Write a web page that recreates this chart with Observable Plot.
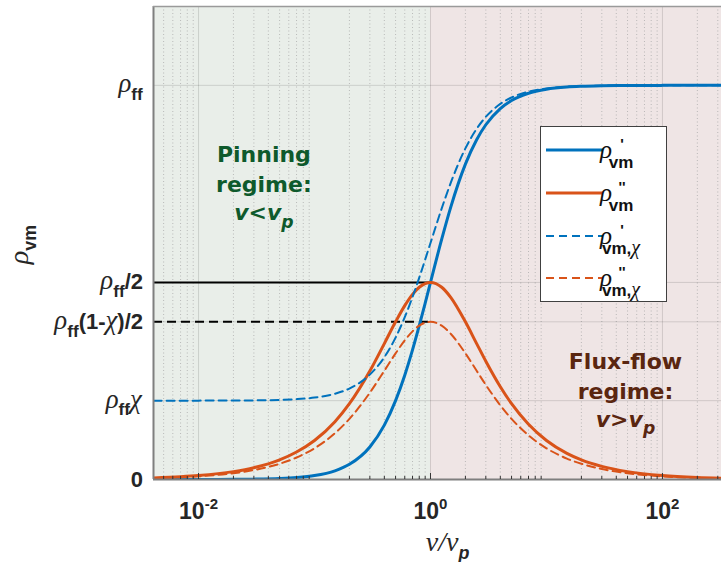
<!DOCTYPE html>
<html>
<head>
<meta charset="utf-8">
<script src="https://cdn.jsdelivr.net/npm/d3@7"></script>
<script src="https://cdn.jsdelivr.net/npm/@observablehq/plot@0.6"></script>
<style>
  html, body { margin: 0; padding: 0; background: white; }
</style>
</head>
<body>
<script>
// ---------- data ----------
const nu = [0.0041, 0.007, 0.01, 0.02, 0.03, 0.05, 0.07, 0.1, 0.15, 0.2, 0.3, 0.4, 0.5, 0.6, 0.7, 0.8, 0.9, 1,
            1.25, 1.5, 2, 2.5, 3, 4, 5, 7, 10, 15, 20, 30, 50, 100, 200, 320];
const rhoReal = [0, 0, 0.0001, 0.0004, 0.0009, 0.0025, 0.0049, 0.0099, 0.022, 0.0385, 0.0826, 0.1379, 0.2, 0.2647,
                 0.3289, 0.3902, 0.4475, 0.5, 0.6098, 0.6923, 0.8, 0.8621, 0.9, 0.9412, 0.9615, 0.98, 0.9901,
                 0.9956, 0.9975, 0.9989, 0.9996, 0.9999, 1, 1];
const rhoImag = [0.0041, 0.007, 0.01, 0.02, 0.03, 0.0499, 0.0698, 0.099, 0.1467, 0.1923, 0.2752, 0.3448, 0.4,
                 0.4412, 0.4698, 0.4878, 0.4972, 0.5, 0.4878, 0.4615, 0.4, 0.3448, 0.3, 0.2353, 0.1923, 0.14,
                 0.099, 0.0664, 0.0499, 0.0333, 0.02, 0.01, 0.005, 0.0031];
const rhoRealChi = [0.2, 0.2, 0.2001, 0.2003, 0.2007, 0.202, 0.2039, 0.2079, 0.2176, 0.2308, 0.2661, 0.3103, 0.36,
                    0.4118, 0.4631, 0.5122, 0.558, 0.6, 0.6878, 0.7538, 0.84, 0.8897, 0.92, 0.9529, 0.9692, 0.984,
                    0.9921, 0.9965, 0.998, 0.9991, 0.9997, 0.9999, 1, 1];
const rhoImagChi = [0.0033, 0.0056, 0.008, 0.016, 0.024, 0.0399, 0.0558, 0.0792, 0.1174, 0.1538, 0.2202, 0.2759,
                    0.32, 0.3529, 0.3758, 0.3902, 0.3978, 0.4, 0.3902, 0.3692, 0.32, 0.2759, 0.24, 0.1882, 0.1538,
                    0.112, 0.0792, 0.0531, 0.0399, 0.0266, 0.016, 0.008, 0.004, 0.0025];

const xTickValues = [0.01, 1, 100];
const xTickLabels = ["10^{-2}", "10^{0}", "10^{2}"];
const yTickValues = [0, 0.2, 0.4, 0.5, 1];
const yTickLabels = ["0", "ρ_{ff}χ", "ρ_{ff}(1-χ)/2", "ρ_{ff}/2", "ρ_{ff}"];
const refLevelSolid = [0.5];
const refLevelDashed = [0.4];
const pinningLines = ["Pinning", "regime:", "*v*<*v*_{*p*}"];
const fluxLines = ["Flux-flow", "regime:", "*v*>*v*_{*p*}"];
const legendPrimes = ["'", "''", "'", "''"];
const legendSubs = ["vm", "vm", "vm,χ", "vm,χ"];
const xTitle = "ν[/]ν_{*p*}";
const yTitle = "ρ_{vm}";

// ---------- layout / style ----------
const BLUE = "#0072BD", ORANGE = "#D95319";
const SERIF = "'Liberation Serif', serif";
const xDomain = [0.00409, 323];
const minorTicks = [];
for (let k = -3; k <= 2; k++) for (let m = 2; m <= 9; m++) {
  const v = m * Math.pow(10, k);
  if (v > xDomain[0] && v < xDomain[1]) minorTicks.push(v);
}
const lineSeries = [
  {y: rhoReal, stroke: BLUE, w: 3, dash: null},
  {y: rhoImag, stroke: ORANGE, w: 3, dash: null},
  {y: rhoRealChi, stroke: BLUE, w: 2, dash: "8,5"},
  {y: rhoImagChi, stroke: ORANGE, w: 2, dash: "8,5"}
];
const pinAnno = pinningLines.map((t, i) => ({text: t, x: 0.0366, y: [0.824, 0.746, 0.675][i]}));
const fluxAnno = fluxLines.map((t, i) => ({text: t, x: 48, y: [0.297, 0.223, 0.152][i]}));

function legendMark() {
  const g = d3.create("svg:g");
  g.append("rect").attr("x", 540.5).attr("y", 126.5).attr("width", 126).attr("height", 175)
    .attr("fill", "white").attr("stroke", "#404040").attr("stroke-width", 1);
  const rows = [150, 193, 236, 278];
  lineSeries.forEach((s, i) => {
    const L = rows[i];
    g.append("line").attr("x1", 546).attr("x2", 603).attr("y1", L).attr("y2", L)
      .attr("stroke", s.stroke).attr("stroke-width", s.w).attr("stroke-dasharray", s.dash);
    const t = g.append("text").attr("x", 606).attr("y", L + 8).attr("data-rich", "done")
      .attr("fill", "#111").attr("font-weight", "bold").attr("font-size", 20);
    t.append("tspan").text("ρ").attr("font-family", SERIF)
      .attr("font-style", "italic").attr("font-weight", "normal").attr("font-size", 25);
    t.append("tspan").text(legendPrimes[i]).attr("x", 622).attr("y", L - 1).attr("font-size", 15);
    legendSubs[i].split(/(χ)/).filter(Boolean).forEach((p, j) => {
      const ts = t.append("tspan").text(p);
      if (j === 0) ts.attr("x", 621).attr("y", L + 18);
      if (p === "χ") ts.attr("font-family", SERIF).attr("font-style", "italic")
        .attr("font-weight", "normal").attr("font-size", 20);
      else ts.attr("font-size", 17);
    });
  });
  return g.node();
}

const chart = Plot.plot({
  width: 721,
  height: 562,
  marginLeft: 153,
  marginRight: 0,
  marginTop: 6,
  marginBottom: 83,
  x: {type: "log", domain: xDomain},
  y: {domain: [0, 1.2]},
  style: {fontFamily: "'Liberation Sans', Arial, sans-serif", fontWeight: "bold", color: "#262626", background: "white"},
  marks: [
    Plot.rect([{x1: xDomain[0], x2: 1}], {x1: "x1", x2: "x2", fill: "#e9eee9"}),
    Plot.rect([{x1: 1, x2: xDomain[1]}], {x1: "x1", x2: "x2", fill: "#efe5e5"}),
    Plot.ruleX(minorTicks, {stroke: "#a8a8a8", strokeOpacity: 0.75, strokeDasharray: "1,2.5"}),
    Plot.ruleX(xTickValues, {stroke: "#000", strokeOpacity: 0.13}),
    Plot.ruleY(yTickValues, {stroke: "#000", strokeOpacity: 0.13}),
    Plot.ruleY(refLevelSolid, {x1: xDomain[0], x2: 1, stroke: "black", strokeWidth: 2}),
    Plot.ruleY(refLevelDashed, {x1: xDomain[0], x2: 1, stroke: "black", strokeWidth: 2, strokeDasharray: "9,5"}),
    ...lineSeries.map(s => Plot.line(nu, {x: nu, y: s.y, stroke: s.stroke, strokeWidth: s.w,
      strokeDasharray: s.dash, curve: "monotone-x", clip: true})),
    Plot.ruleX([xDomain[0]], {stroke: "#7f7f7f", strokeWidth: 2}),
    Plot.ruleY([0], {stroke: "#7f7f7f", strokeWidth: 2}),
    Plot.ruleY([1.2], {stroke: "#9a9a9a", strokeWidth: 1.5}),
    Plot.tickX(xTickValues, {insetTop: 467, stroke: "#333"}),
    Plot.tickX(minorTicks, {insetTop: 470, stroke: "#333"}),
    Plot.axisX({ticks: xTickValues, tickSize: 0, tickPadding: 23, fontSize: 23, label: null,
      tickFormat: d => xTickLabels[xTickValues.indexOf(d)]}),
    Plot.axisY({ticks: yTickValues, tickSize: 0, tickPadding: 10, fontSize: 22, label: null,
      tickFormat: d => yTickLabels[yTickValues.indexOf(d)]}),
    Plot.text(pinAnno, {x: "x", y: "y", text: "text", fill: "#0e5a2c", fontSize: 22,
      fontFamily: "'DejaVu Sans', Verdana, sans-serif", fontWeight: "bold"}),
    Plot.text(fluxAnno, {x: "x", y: "y", text: "text", fill: "#5a2610", fontSize: 22,
      fontFamily: "'DejaVu Sans', Verdana, sans-serif", fontWeight: "bold"}),
    Plot.text([yTitle], {text: d => d, frameAnchor: "left", dx: -126, rotate: -90, fontSize: 23,
      lineAnchor: "bottom", fill: "#262626"}),
    Plot.text([xTitle], {text: d => d, frameAnchor: "bottom", dx: 10, dy: 71, fontSize: 23,
      lineAnchor: "bottom", fill: "#262626"}),
    legendMark
  ]
});
document.body.appendChild(chart);

// ---------- rich text (sub/superscripts, Greek in serif italic) ----------
const NS = "http://www.w3.org/2000/svg";
function richify(el, str, o) {
  o = Object.assign({greekScale: 1.22, subScale: 0.78, subShift: 0.35, supScale: 0.65, supShift: 0.42}, o || {});
  const base = parseFloat(getComputedStyle(el).fontSize);
  while (el.firstChild) el.removeChild(el.firstChild);
  let shift = 0;
  const parts = str.split(/(_\{[^}]*\}|\^\{[^}]*\}|\*[^*]*\*|\[[^\]]*\])/).filter(Boolean);
  for (const p of parts) {
    let kind = "n", content = p, italic = false, serif = false;
    if (p.startsWith("_{")) { kind = "sub"; content = p.slice(2, -1); }
    else if (p.startsWith("^{")) { kind = "sup"; content = p.slice(2, -1); }
    else if (p.startsWith("*")) { content = p.slice(1, -1); italic = true; }
    else if (p.startsWith("[")) { content = p.slice(1, -1); serif = true; }
    if (kind !== "n" && content.length > 2 && content.startsWith("*") && content.endsWith("*")) {
      content = content.slice(1, -1); italic = true;
    }
    const size = kind === "sub" ? base * o.subScale : kind === "sup" ? base * o.supScale : base;
    const target = kind === "sub" ? base * o.subShift : kind === "sup" ? -base * o.supShift : 0;
    const pieces = content.split(/([ρχν])/).filter(Boolean);
    pieces.forEach((piece, j) => {
      const t = document.createElementNS(NS, "tspan");
      t.textContent = piece;
      if (j === 0 && target !== shift) { t.setAttribute("dy", (target - shift).toFixed(2)); shift = target; }
      const greek = /^[ρχν]$/.test(piece) || serif;
      if (greek) {
        t.setAttribute("font-family", SERIF);
        t.setAttribute("font-style", "italic");
        t.setAttribute("font-weight", "normal");
        t.setAttribute("font-size", (size * o.greekScale).toFixed(1));
      } else {
        t.setAttribute("font-size", size.toFixed(1));
        if (italic) t.setAttribute("font-style", "italic");
      }
      el.appendChild(t);
    });
  }
}
chart.querySelectorAll("text").forEach(el => {
  if (el.getAttribute("data-rich") === "done") return;
  const s = el.textContent;
  if (/[_^*\[ρχν]/.test(s)) richify(el, s);
});

// ---------- fine alignment of rich labels ----------
function shiftText(el, {right = null, cy = null} = {}) {
  const r = el.getBoundingClientRect(), s = chart.getBoundingClientRect();
  let dx = 0, dy = 0;
  if (right != null) dx = right - (r.right - s.left);
  if (cy != null) dy = cy - ((r.top + r.bottom) / 2 - s.top);
  el.setAttribute("transform", `translate(${dx.toFixed(2)},${dy.toFixed(2)}) ` + (el.getAttribute("transform") || ""));
}
chart.querySelectorAll('g[aria-label="y-axis tick label"] text').forEach(el => shiftText(el, {right: 143}));
chart.querySelectorAll('g[aria-label="text"] text').forEach(el => {
  if (el.getAttribute("transform") && el.getAttribute("transform").includes("rotate")) shiftText(el, {cy: 245});
});
</script>
</body>
</html>
